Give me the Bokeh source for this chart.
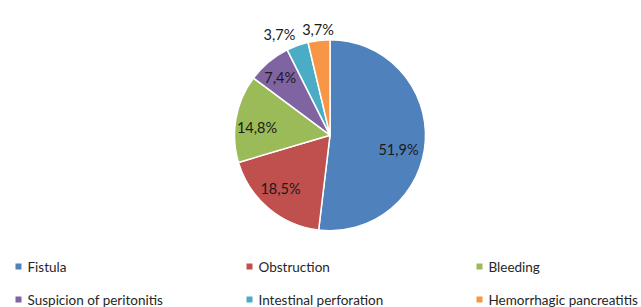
import numpy as np
from bokeh.plotting import figure
from bokeh.models import Range1d, ColumnDataSource
from bokeh.core.properties import value
from bokeh.embed import file_html
from bokeh.resources import INLINE

# ---- data ----
categories = ["Fistula", "Obstruction", "Bleeding",
              "Suspicion of peritonitis", "Intestinal perforation",
              "Hemorrhagic pancreatitis"]
shares = [51.9, 18.5, 14.8, 7.4, 3.7, 3.7]
share_labels = ["51,9%", "18,5%", "14,8%", "7,4%", "3,7%", "3,7%"]

# ---- style ----
colors = ["#4F81BD", "#C0504D", "#9BBB59", "#8064A2", "#4BACC6", "#F79646"]
label_dist = [0.733, 0.763, 0.769, 0.796, 1.178, 1.117]   # fraction of radius
label_nudge_deg = [-8.6, -2.7, 4.1, 1.0, 6.7, -0.2]

W, H = 641, 307
cx, cy, r = 329.5, 172.3, 95.5

vals = np.array(shares, dtype=float)
frac = vals / vals.sum()
cum_end = np.cumsum(frac)
cum_start = cum_end - frac
start = np.pi / 2 - cum_start * 2 * np.pi
end = np.pi / 2 - cum_end * 2 * np.pi
mid = (start + end) / 2 + np.radians(label_nudge_deg)
lx = cx + np.array(label_dist) * r * np.cos(mid)
ly = cy + np.array(label_dist) * r * np.sin(mid)

src = ColumnDataSource(dict(start=start, end=end, color=colors,
                            lx=lx, ly=ly, lab=share_labels))

p = figure(width=W, height=H, x_range=Range1d(0, W), y_range=Range1d(0, H),
           output_backend="svg", toolbar_location=None, min_border=0,
           background_fill_color="white", border_fill_color="white")
p.axis.visible = False
p.grid.visible = False
p.outline_line_color = None

p.wedge(x=cx, y=cy, radius=r, start_angle="start", end_angle="end",
        direction="clock", fill_color="color", line_color="white",
        line_width=1.5, source=src)

p.text(x="lx", y="ly", text="lab", source=src, text_font=value("Lato"),
       text_font_size="14.5px", text_color="#1a1a1a",
       text_align="center", text_baseline="middle")

# ---- legend (3 columns x 2 rows) ----
col_x = [18, 249, 479]
row_y = [41, 8]
leg_x = [col_x[i % 3] for i in range(len(categories))]
leg_y = [row_y[i // 3] for i in range(len(categories))]
leg = ColumnDataSource(dict(x=leg_x, y=leg_y, tx=[x + 9 for x in leg_x],
                            name=categories, color=colors))
p.scatter(x="x", y="y", marker="square", size=6, fill_color="color",
          line_color=None, source=leg)
p.text(x="tx", y="y", text="name", source=leg, text_font=value("Lato"),
       text_font_size="13.5px", text_color="#262626",
       text_align="left", text_baseline="middle")

open("out.html", "w").write(file_html(p, INLINE))
